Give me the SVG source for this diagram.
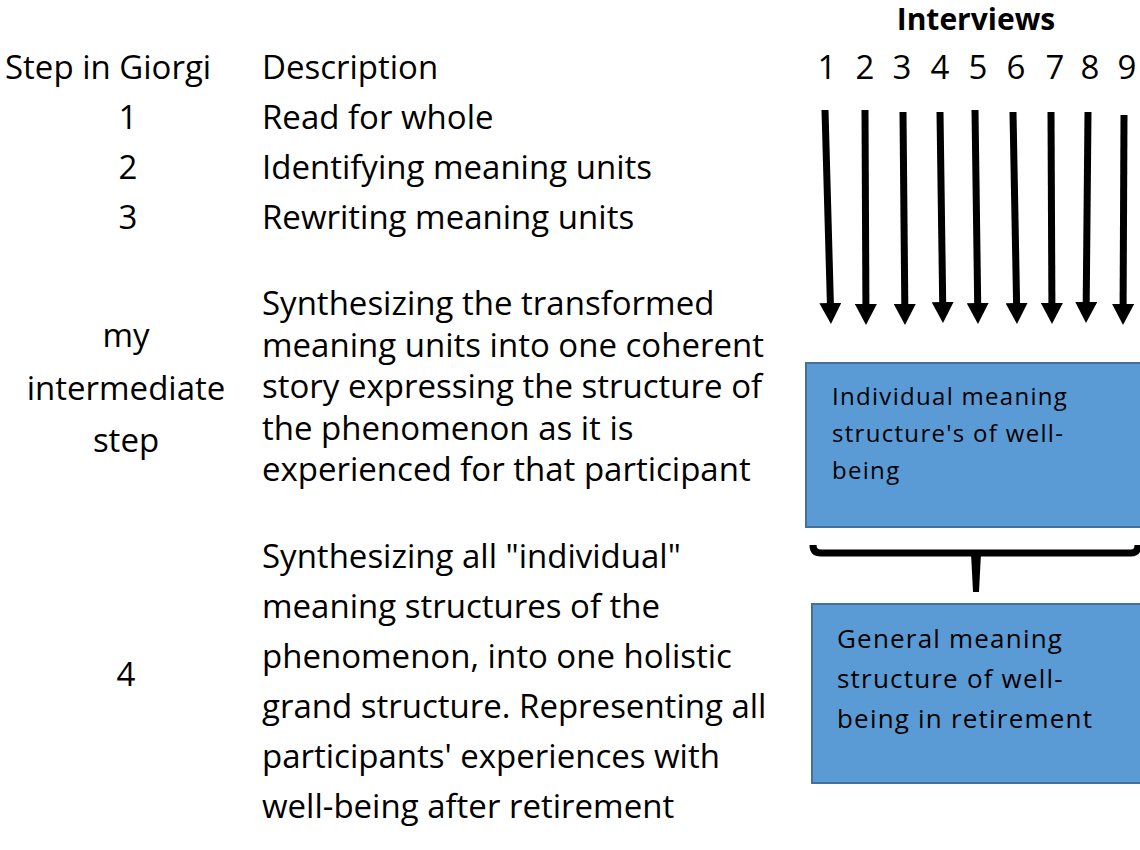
<svg xmlns="http://www.w3.org/2000/svg" width="1140" height="850" viewBox="0 0 1140 850">
  <style>
    .t { font-family: "Open Sans", "Liberation Sans", sans-serif; font-size: 33px; fill: #000; }
    .mid { text-anchor: middle; }
    .hd { font-family: "Open Sans", "Liberation Sans", sans-serif; font-size: 30px; font-weight: bold; fill: #000; }
    .box { fill: #5B9BD5; stroke: #41719C; stroke-width: 2; }
    .bt1 { font-family: "Open Sans", "Liberation Sans", sans-serif; font-size: 24px; letter-spacing: 1.3px; fill: #000; }
    .bt2 { font-family: "Open Sans", "Liberation Sans", sans-serif; font-size: 26px; letter-spacing: 1.2px; fill: #000; }
    .shaft { stroke: #000; stroke-width: 7; fill: none; marker-end: url(#head); }
  </style>
  <defs>
    <marker id="head" viewBox="0 0 21 22" refX="1" refY="11" markerWidth="21" markerHeight="22" markerUnits="userSpaceOnUse" orient="auto">
      <path d="M0,0 L21,11 L0,22 z" fill="#000"/>
    </marker>
  </defs>

  <rect width="1140" height="850" fill="#fff"/>

  <!-- table header -->
  <g id="header">
    <text class="t" x="5" y="79">Step in Giorgi</text>
    <text class="t" x="262" y="79">Description</text>
  </g>

  <!-- steps 1-3 -->
  <g id="step1">
    <text class="t mid" x="128" y="129">1</text>
    <text class="t" x="262" y="129">Read for whole</text>
  </g>
  <g id="step2">
    <text class="t mid" x="128" y="179">2</text>
    <text class="t" x="262" y="179">Identifying meaning units</text>
  </g>
  <g id="step3">
    <text class="t mid" x="128" y="229">3</text>
    <text class="t" x="262" y="229">Rewriting meaning units</text>
  </g>

  <!-- intermediate step -->
  <g id="step-intermediate">
    <text class="t mid" x="126" y="347">my</text>
    <text class="t mid" x="126" y="400">intermediate</text>
    <text class="t mid" x="126" y="452">step</text>
    <text class="t" x="262" y="315">Synthesizing the transformed</text>
    <text class="t" x="262" y="357">meaning units into one coherent</text>
    <text class="t" x="262" y="398">story expressing the structure of</text>
    <text class="t" x="262" y="440">the phenomenon as it is</text>
    <text class="t" x="262" y="481">experienced for that participant</text>
  </g>

  <!-- step 4 -->
  <g id="step4">
    <text class="t mid" x="126" y="686">4</text>
    <text class="t" x="262" y="568">Synthesizing all "individual"</text>
    <text class="t" x="262" y="618">meaning structures of the</text>
    <text class="t" x="262" y="668">phenomenon, into one holistic</text>
    <text class="t" x="262" y="718">grand structure. Representing all</text>
    <text class="t" x="262" y="768">participants' experiences with</text>
    <text class="t" x="262" y="818">well-being after retirement</text>
  </g>

  <!-- interview labels -->
  <g id="interviews">
    <text class="hd mid" x="976" y="30">Interviews</text>
    <text class="t mid" x="827" y="79">1</text>
    <text class="t mid" x="865" y="79">2</text>
    <text class="t mid" x="902" y="79">3</text>
    <text class="t mid" x="940" y="79">4</text>
    <text class="t mid" x="978" y="79">5</text>
    <text class="t mid" x="1016" y="79">6</text>
    <text class="t mid" x="1055" y="79">7</text>
    <text class="t mid" x="1090" y="79">8</text>
    <text class="t mid" x="1127" y="79">9</text>
  </g>

  <!-- individual structures -->
  <g id="individual-box">
    <rect class="box" x="806" y="363" width="345" height="164"/>
    <text class="bt1" x="832" y="405">Individual meaning</text>
    <text class="bt1" x="832" y="442">structure's of well-</text>
    <text class="bt1" x="832" y="479">being</text>
  </g>

  <!-- general structure -->
  <g id="general-box">
    <rect class="box" x="812" y="604" width="340" height="179"/>
    <text class="bt2" x="837" y="648">General meaning</text>
    <text class="bt2" x="837" y="688">structure of well-</text>
    <text class="bt2" x="837" y="728">being in retirement</text>
  </g>

  <!-- connectors -->
  <g id="connectors">
    <line class="shaft" x1="825" y1="110" x2="830.4" y2="304"/>
    <line class="shaft" x1="865" y1="110" x2="865.9" y2="305"/>
    <line class="shaft" x1="903" y1="112" x2="904.8" y2="305"/>
    <line class="shaft" x1="940" y1="112" x2="942.7" y2="303"/>
    <line class="shaft" x1="975" y1="110" x2="977.7" y2="304"/>
    <line class="shaft" x1="1013" y1="112" x2="1016.6" y2="304"/>
    <line class="shaft" x1="1051" y1="112" x2="1051.9" y2="304"/>
    <line class="shaft" x1="1088" y1="112" x2="1086.2" y2="303"/>
    <line class="shaft" x1="1124" y1="115" x2="1123.1" y2="305"/>
    <!-- bracket joining the individual structures -->
    <path d="M813,545 Q813,553 821,553 L1131,553 Q1138,553 1138,545" fill="none" stroke="#000" stroke-width="7"/>
    <polygon points="971,553 981,553 979,592 973,592" fill="#000"/>
  </g>
</svg>
